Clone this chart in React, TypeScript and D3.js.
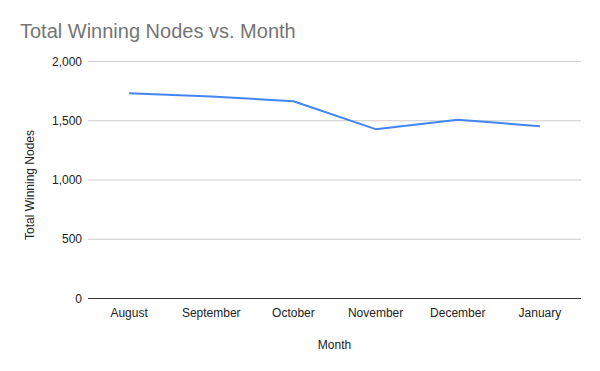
import React from "react";
import * as d3 from "d3";

const months = ["August", "September", "October", "November", "December", "January"];
const nodes = [1733, 1705, 1665, 1429, 1508, 1454];
const yTicks = [0, 500, 1000, 1500, 2000];

const App = () => {
  const width = 600;
  const height = 371;
  const margin = { top: 61.5, right: 19, bottom: 72.5, left: 88 };
  const innerWidth = width - margin.left - margin.right;
  const innerHeight = height - margin.top - margin.bottom;

  const x = d3.scaleBand().domain(months).range([0, innerWidth]).padding(0);
  const y = d3.scaleLinear().domain([0, 2000]).range([innerHeight, 0]);

  const line = d3
    .line<number>()
    .x((_, i) => (x(months[i]) ?? 0) + x.bandwidth() / 2)
    .y((d) => y(d));

  const font = "'Liberation Sans', Arial, sans-serif";

  return (
    <svg
      width={width}
      height={height}
      style={{ position: "absolute", left: 0, top: 0, background: "#fff" }}
      fontFamily={font}
    >
      <text x={20} y={38} fontSize={20} fill="#757575">
        Total Winning Nodes vs. Month
      </text>
      <g transform={`translate(${margin.left},${margin.top})`}>
        {yTicks.map((t) => (
          <g key={t} transform={`translate(0,${y(t)})`}>
            <line x1={0} x2={innerWidth} stroke={t === 0 ? "#333" : "#ccc"} strokeWidth={1} />
            <text x={-6} dy="0.35em" textAnchor="end" fontSize={12} fill="#222">
              {d3.format(",")(t)}
            </text>
          </g>
        ))}
        {months.map((m) => (
          <text
            key={m}
            x={(x(m) ?? 0) + x.bandwidth() / 2}
            y={innerHeight + 18}
            textAnchor="middle"
            fontSize={12}
            fill="#222"
          >
            {m}
          </text>
        ))}
        <path d={line(nodes) ?? ""} fill="none" stroke="#4285f4" strokeWidth={2} strokeLinejoin="round" />
      </g>
      <text x={margin.left + innerWidth / 2} y={349} textAnchor="middle" fontSize={12} fill="#222">
        Month
      </text>
      <text
        transform={`translate(34,185) rotate(-90)`}
        textAnchor="middle"
        fontSize={12}
        fill="#222"
      >
        Total Winning Nodes
      </text>
    </svg>
  );
};

export default App;
